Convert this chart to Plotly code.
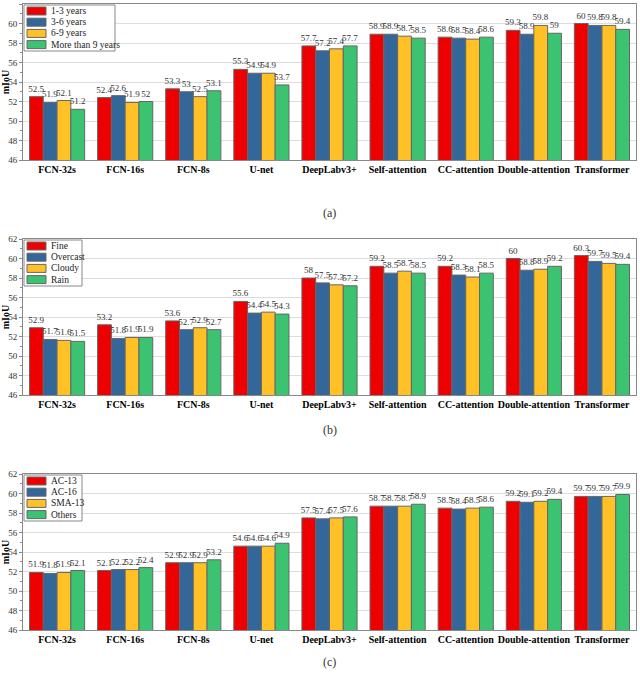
"""
Grouped bar charts of mIoU per model, three panels.
"""
import plotly.graph_objects as go
from plotly.subplots import make_subplots

models = ["FCN-32s", "FCN-16s", "FCN-8s", "U-net", "DeepLabv3+",
          "Self-attention", "CC-attention", "Double-attention", "Transformer"]

# (a) by road age
age_names = ["1-3 years", "3-6 years", "6-9 years", "More than 9 years"]
age_1_3 = [52.5, 52.4, 53.3, 55.3, 57.7, 58.9, 58.6, 59.3, 60]
age_3_6 = [51.9, 52.6, 53, 54.9, 57.2, 58.9, 58.5, 58.9, 59.8]
age_6_9 = [52.1, 51.9, 52.5, 54.9, 57.4, 58.7, 58.4, 59.8, 59.8]
age_9_plus = [51.2, 52, 53.1, 53.7, 57.7, 58.5, 58.6, 59, 59.4]

# (b) by weather
weather_names = ["Fine", "Overcast", "Cloudy", "Rain"]
fine = [52.9, 53.2, 53.6, 55.6, 58, 59.2, 59.2, 60, 60.3]
overcast = [51.7, 51.8, 52.7, 54.4, 57.5, 58.5, 58.3, 58.8, 59.7]
cloudy = [51.6, 51.9, 52.9, 54.5, 57.3, 58.7, 58.1, 58.9, 59.5]
rain = [51.5, 51.9, 52.7, 54.3, 57.2, 58.5, 58.5, 59.2, 59.4]

# (c) by pavement material
material_names = ["AC-13", "AC-16", "SMA-13", "Others"]
ac13 = [51.9, 52.1, 52.9, 54.6, 57.5, 58.7, 58.5, 59.2, 59.7]
ac16 = [51.8, 52.2, 52.9, 54.6, 57.4, 58.7, 58.4, 59.1, 59.7]
sma13 = [51.9, 52.2, 52.9, 54.6, 57.5, 58.7, 58.5, 59.2, 59.7]
others = [52.1, 52.4, 53.2, 54.9, 57.6, 58.9, 58.6, 59.4, 59.9]

panels = [
    (age_names, [age_1_3, age_3_6, age_6_9, age_9_plus], "(a)"),
    (weather_names, [fine, overcast, cloudy, rain], "(b)"),
    (material_names, [ac13, ac16, sma13, others], "(c)"),
]

colors = ["#EE0000", "#336699", "#FFC125", "#3CC371"]
serif = "Liberation Serif"

W, H = 640, 682
L, R, TOP, BOTTOM = 23, 4, 4, 52
plot_w = W - L - R
plot_h = H - TOP - BOTTOM
# pixel tops/bottoms of each panel
pix = [(4, 160), (239, 395), (474, 630)]
caption_y = [204, 439, 671]
legend_right = [115, 82, 82]


def px_x(p):
    return (p - L) / plot_w


def px_y(p):
    return (H - BOTTOM - p) / plot_h


domains = [[px_y(b), px_y(t)] for t, b in pix]

fig = make_subplots(rows=3, cols=1)

for i, (names, series, cap) in enumerate(panels):
    row = i + 1
    top = pix[i][0]
    for name, vals, col in zip(names, series, colors):
        fig.add_trace(go.Bar(
            x=models, y=vals, name=name, showlegend=False,
            marker=dict(color=col, line=dict(color="#666666", width=1)),
            text=[f"{v:g}" for v in vals],
            textposition="outside",
            textfont=dict(family=serif, size=9, color="#333333"),
            constraintext="none",
            cliponaxis=False,
        ), row=row, col=1)

    ax = "" if i == 0 else str(i + 1)
    fig.update_layout({
        f"xaxis{ax}": dict(
            domain=[0, 1], showline=True, mirror=True, linecolor="#888888",
            tickfont=dict(family=serif, size=10, color="black"),
            tickangle=0, ticks="", tickprefix="<b>", ticksuffix="</b>",
            automargin=False,
        ),
        f"yaxis{ax}": dict(
            domain=domains[i], range=[46, 62], dtick=2,
            showline=True, mirror=True, linecolor="#888888",
            showgrid=True, gridcolor="#dddddd", gridwidth=1,
            ticks="outside", ticklen=3, tickcolor="#888888",
            minor=dict(dtick=1, ticks="outside", ticklen=2, tickcolor="#888888"),
            tickfont=dict(family=serif, size=9, color="#333333"),
            ticklabelstandoff=0,
            title=dict(text="<b>mIoU</b>", standoff=0,
                       font=dict(family=serif, size=10, color="black")),
            zeroline=False, automargin=False,
        ),
    })

    # legend box drawn in the upper-left corner of each panel
    fig.add_shape(type="rect", xref="paper", yref="paper",
                  x0=px_x(L + 1), x1=px_x(legend_right[i]),
                  y0=px_y(top + 47), y1=px_y(top + 1),
                  line=dict(color="#888888", width=1), fillcolor="white",
                  layer="above")
    for k, (name, col) in enumerate(zip(names, colors)):
        cy = top + 7 + k * 11.2
        fig.add_shape(type="rect", xref="paper", yref="paper",
                      x0=px_x(27), x1=px_x(46),
                      y0=px_y(cy + 4), y1=px_y(cy - 4),
                      line=dict(color="#666666", width=1), fillcolor=col,
                      layer="above")
        fig.add_annotation(
            text=name, xref="paper", yref="paper",
            x=px_x(49), y=px_y(cy), xanchor="left", yanchor="middle",
            showarrow=False,
            font=dict(family=serif, size=9.5, color="#222222"),
        )

    fig.add_annotation(
        text=cap, xref="paper", yref="paper", x=0.5,
        y=px_y(caption_y[i]), showarrow=False,
        font=dict(family=serif, size=12, color="#333333"),
    )

fig.update_layout(
    width=W, height=H,
    margin=dict(l=L, r=R, t=TOP, b=BOTTOM),
    barmode="group", bargap=0.19, bargroupgap=0,
    plot_bgcolor="white", paper_bgcolor="white",
    font=dict(family=serif),
    showlegend=False,
)

fig.write_html("out.html", config={"displayModeBar": False},
               post_script="document.body.style.margin='0';")
